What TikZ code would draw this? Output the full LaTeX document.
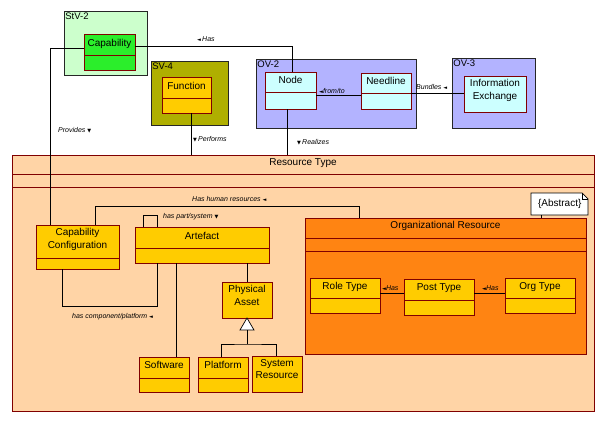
\documentclass[tikz,border=0pt]{standalone}
\usepackage{fontspec}
\setmainfont{Liberation Sans}
\newfontfamily\symfont{DejaVu Sans}
\usetikzlibrary{calc}
\definecolor{clsborder}{HTML}{800000}
\definecolor{pkggreen}{HTML}{CCFFCC}
\definecolor{capgreen}{HTML}{2BEE2B}
\definecolor{pkgolive}{HTML}{AFAF00}
\definecolor{pkgblue}{HTML}{B3B3FF}
\definecolor{clscyan}{HTML}{CCFFFF}
\definecolor{clsgold}{HTML}{FFCC00}
\definecolor{clspeach}{HTML}{FFD4A6}
\definecolor{clsorange}{HTML}{FF8412}
\tikzset{
  cls/.style={draw=clsborder, line width=0.7pt, anchor=north west, inner sep=0pt, outer sep=0pt},
  pkg/.style={draw=black!85, line width=0.7pt, anchor=north west, inner sep=0pt, outer sep=0pt},
  ttl/.style={font=\fontsize{10}{12.8}\selectfont, anchor=north, inner sep=0pt, align=center},
  pkgttl/.style={font=\fontsize{9.5}{11}\selectfont, anchor=north west, inner sep=1.2pt},
  conn/.style={draw=black, line width=0.7pt},
  rl/.style={font=\fontsize{7}{8}\selectfont\itshape, inner sep=0pt, anchor=west},
  divline/.style={draw=clsborder, line width=0.7pt},
}
\newcommand\mk[1]{{\symfont\fontsize{5}{5}\selectfont #1}}
\newcommand\umlcls[8]{%
  \node[cls, fill=#6, minimum width=#4pt, minimum height=#5pt,
        label={[ttl,yshift=-#8pt]north:{#7}}] (#1) at (#2,#3) {};}
\newcommand\divl[2]{\draw[divline] ($(#1.north west)+(0,#2)$) -- ($(#1.north east)+(0,#2)$);}
\begin{document}
\begin{tikzpicture}[x=1pt,y=-1pt]
\useasboundingbox[fill=white] (0,0) rectangle (604,420);

% packages
\node[pkg, fill=pkggreen, minimum width=83pt, minimum height=64pt] (stv) at (64,11) {};
\node[pkgttl] (stvl) at (stv.north west) {StV-2};
\node[pkg, fill=pkgolive, minimum width=77pt, minimum height=64pt] (sv) at (151,61) {};
\node[pkgttl] (svl) at (sv.north west) {SV-4};
\node[pkg, fill=pkgblue, minimum width=160pt, minimum height=69pt] (ov2) at (256,59) {};
\node[pkgttl] (ov2l) at (ov2.north west) {OV-2};
\node[pkg, fill=pkgblue, minimum width=83pt, minimum height=70pt] (ov3) at (452,58) {};
\node[pkgttl] (ov3l) at (ov3.north west) {OV-3};

% classes in packages
\umlcls{cap}{84}{34}{51}{36}{capgreen}{Capability}{5}
\divl{cap}{21}
\umlcls{func}{162}{77}{49}{36}{clsgold}{Function}{5}
\divl{func}{21}
\umlcls{nd}{265}{72}{51}{37}{clscyan}{Node}{4}
\divl{nd}{20}
\umlcls{need}{361}{73}{50}{36}{clscyan}{Needline}{4}
\divl{need}{20}
\umlcls{ie}{464}{76}{62}{36}{clscyan}{Information\\Exchange}{3.5}

% Resource Type
\umlcls{rt}{12}{155}{582}{256}{clspeach}{Resource Type}{3}
\divl{rt}{19}
\divl{rt}{32}

% Organizational Resource
\umlcls{org}{305}{218}{281}{136}{clsorange}{Organizational Resource}{3.5}
\divl{org}{20}
\divl{org}{33}
\umlcls{role}{310}{278}{70}{35}{clsgold}{Role Type}{4}
\divl{role}{20}
\umlcls{post}{404}{279}{70}{36}{clsgold}{Post Type}{4.5}
\divl{post}{21}
\umlcls{orgt}{505}{278}{70}{35}{clsgold}{Org Type}{4}
\divl{orgt}{20}

% note
\draw[line width=0.7pt, fill=white] (531,193) -- (582,193) -- (588,199) -- (588,215) -- (531,215) -- cycle;
\draw[line width=0.7pt] (582,193) -- (582,199) -- (588,199);
\node[anchor=north west, inner sep=0pt, minimum width=57pt, minimum height=22pt,
      font=\fontsize{10}{11}\selectfont] (note) at (531,193) {\{Abstract\}};
\draw[conn] ($(note.south west)+(10,0)$) -- ($(org.north west)+(236,0)$);

% other resource classes
\umlcls{cc}{36}{225}{83}{44}{clsgold}{Capability\\Configuration}{3.5}
\divl{cc}{33}
\umlcls{art}{135}{227}{134}{36}{clsgold}{Artefact}{5}
\divl{art}{21}
\umlcls{pa}{222}{282}{50}{36}{clsgold}{Physical\\Asset}{3.5}
\umlcls{sw}{139}{357}{50}{35}{clsgold}{Software}{4.5}
\divl{sw}{21}
\umlcls{pf}{198}{357}{50}{35}{clsgold}{Platform}{4.5}
\divl{pf}{21}
\umlcls{sr}{252}{356}{50}{36}{clsgold}{System\\Resource}{3}

% connectors
\draw[conn] ($(cap.north east)+(0,12)$) -| ($(nd.north west)+(27,0)$);
\draw[conn] ($(cap.north west)+(0,14)$) -| ($(cc.north west)+(14,0)$);
\draw[conn] ($(func.south west)+(29,0)$) coordinate (fb) -- (fb |- rt.north);
\draw[conn] ($(nd.south west)+(22,0)$) coordinate (nb) -- (nb |- rt.north);
\draw[conn] ($(nd.north east)+(0,23)$) coordinate (n1) -- (n1 -| need.west);
\draw[conn] ($(need.north east)+(0,20)$) coordinate (n2) -- (n2 -| ie.west);
\draw[conn] ($(cc.north west)+(59,0)$) -- ++(0,-19) -| ($(org.north west)+(54,0)$);
\draw[conn] ($(art.north west)+(8,0)$) -- ++(0,-12) -| ($(art.north west)+(22,0)$);
\draw[conn] ($(cc.south west)+(26,0)$) -- ++(0,37) -| ($(art.south west)+(22,0)$);
\draw[conn] ($(art.south west)+(41,0)$) -- ($(sw.north west)+(37,0)$);
\draw[conn] (art.south -| pa.north) -- (pa.north);
\draw[conn, fill=white] (pa.south) -- ++(-7,12) -- ++(14,0) -- cycle;
\draw[conn] ($(pa.south)+(0,12)$) -- ++(0,14) coordinate (gj);
\draw[conn] ($(pf.north west)+(23,0)$) |- (gj) -| ($(sr.north west)+(24,0)$);
\draw[conn] ($(post.north west)+(0,14)$) coordinate (p1) -- (p1 -| role.east);
\draw[conn] ($(orgt.north west)+(0,15)$) coordinate (p2) -- (p2 -| post.east);

% connector labels
\node[rl] (lhas) at (197,39) {\mk{◄}\,Has};
\node[rl] (lprov) at (58,130) {Provides \mk{▼}};
\node[rl] (lperf) at (193,139) {\mk{▼}\,Performs};
\node[rl] (lreal) at (297,142) {\mk{▼}\,Realizes};
\node[rl] (lft) at (319,90.5) {\mk{◄}from/to};
\node[rl] (lbun) at (416,87) {Bundles \mk{◄}};
\node[rl] (lhhr) at (192,199) {Has human resources \mk{◄}};
\node[rl] (lpart) at (163,217) {has part/system \mk{▼}};
\node[rl] (lcomp) at (72,317) {has component/platform \mk{◄}};
\node[rl] (lhas2) at (382,288) {\mk{◄}Has};
\node[rl] (lhas3) at (482,288) {\mk{◄}Has};
\end{tikzpicture}
\end{document}
